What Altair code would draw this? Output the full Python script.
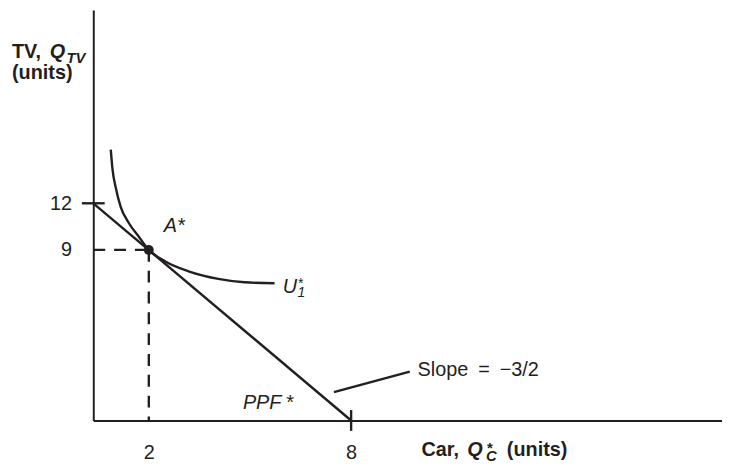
import altair as alt
import pandas as pd

# ---- data values ----
x_ticks = [2, 8]
y_ticks = [9, 12]

ppf_x = [0, 8]
ppf_y = [12, 0]

ic_x = [0.63, 0.69, 0.81, 0.99, 1.29, 1.64, 2.0, 2.49, 3.18, 4.06, 4.84, 5.73]
ic_y = [15.61, 14.33, 13.04, 11.76, 10.70, 9.85, 9.0, 8.39, 7.87, 7.47, 7.29, 7.24]

a_x = [2]
a_y = [9]

slope_x = [7.49, 9.74]
slope_y = [1.50, 2.58]

# in-plot labels (data coordinates of their left/baseline anchor)
lbl_a = ("A*", 2.44, 10.17)
lbl_u = ("U", 5.97, 6.75)
lbl_ustar = ("*", 6.41, 7.01)
lbl_usub = ("1", 6.41, 6.54)
lbl_ppf = ("PPF\u2009*", 4.79, 0.63)
lbl_slope = ("Slope\u2002=\u2002\u22123/2", 9.97, 2.35)

# axis title pieces
ytitle_parts = ["TV,", "Q", "TV", "(units)"]
xtitle_parts = ["Car,", "Q", "*", "C", "(units)"]
x_origin, y_top = 0, 25

INK = "#231f20"
FONT = "Liberation Sans"

xscale = alt.Scale(domain=[0, 2, 8, 19], range=[0, 56, 260, 634], nice=False, zero=False)
yscale = alt.Scale(domain=[0, 9, 12, 25], range=[414, 242, 195, 0], nice=False, zero=False)

xaxis = alt.Axis(values=x_ticks, title=None, ticks=False, tickSize=0, grid=False,
                 labelFont=FONT, labelFontSize=20, labelColor=INK, labelPadding=38,
                 labelBaseline="alphabetic", labelFlush=False, labelOverlap=False,
                 domainColor=INK, domainWidth=2)
yaxis = alt.Axis(values=y_ticks, title=None, ticks=False, tickSize=0, grid=False,
                 labelFont=FONT, labelFontSize=20, labelColor=INK, labelPadding=22,
                 labelBaseline="middle", labelAlign="right", labelFlush=False, labelOverlap=False,
                 domainColor=INK, domainWidth=2)


def X(f="x"):
    return alt.X(f"{f}:Q", scale=xscale, axis=xaxis)


def Y(f="y"):
    return alt.Y(f"{f}:Q", scale=yscale, axis=yaxis)


ppf = alt.Chart(pd.DataFrame({"x": ppf_x, "y": ppf_y})).mark_line(
    color=INK, strokeWidth=2.4).encode(x=X(), y=Y())

ic = alt.Chart(pd.DataFrame({"x": ic_x, "y": ic_y})).mark_line(
    color=INK, strokeWidth=2.4, interpolate="monotone").encode(x=X(), y=Y())

dash_df = pd.DataFrame({"x": [0, a_x[0]], "x2": [a_x[0], a_x[0]],
                        "y": [a_y[0], a_y[0]], "y2": [a_y[0], 0]})
dashes = alt.Chart(dash_df).mark_rule(color=INK, strokeWidth=2.4, strokeDash=[12, 9]).encode(
    x=X(), x2="x2:Q", y=Y(), y2="y2:Q")

tick12 = alt.Chart(pd.DataFrame({"x": [0], "y": [12]})).mark_tick(
    orient="horizontal", size=23, thickness=2.4, color=INK, opacity=1).encode(x=X(), y=Y())
tick8 = alt.Chart(pd.DataFrame({"x": [8], "y": [0]})).mark_tick(
    orient="vertical", size=21, thickness=2.4, color=INK, opacity=1).encode(x=X(), y=Y())

point = alt.Chart(pd.DataFrame({"x": a_x, "y": a_y})).mark_circle(
    size=100, color=INK, opacity=1).encode(x=X(), y=Y())

slope_df = pd.DataFrame({"x": [slope_x[0]], "x2": [slope_x[1]], "y": [slope_y[0]], "y2": [slope_y[1]]})
slope_line = alt.Chart(slope_df).mark_rule(color=INK, strokeWidth=2.4).encode(
    x=X(), x2="x2:Q", y=Y(), y2="y2:Q")


def label(text, x, y, size=20, weight="normal", style="normal", dx=0, dy=0):
    df = pd.DataFrame({"x": [x], "y": [y], "t": [text]})
    return alt.Chart(df).mark_text(
        font=FONT, fontSize=size, fontWeight=weight, fontStyle=style, color=INK,
        align="left", baseline="alphabetic", dx=dx, dy=dy).encode(x=X(), y=Y(), text="t:N")


texts = [
    label(lbl_a[0], lbl_a[1], lbl_a[2], style="italic"),
    label(lbl_u[0], lbl_u[1], lbl_u[2], style="italic"),
    label(lbl_ustar[0], lbl_ustar[1], lbl_ustar[2], size=14, style="italic"),
    label(lbl_usub[0], lbl_usub[1], lbl_usub[2], size=14, style="italic"),
    label(lbl_ppf[0], lbl_ppf[1], lbl_ppf[2], style="italic"),
    label(lbl_slope[0], lbl_slope[1], lbl_slope[2]),
    # y-axis title
    label(ytitle_parts[0], x_origin, y_top, weight="bold", dx=-82, dy=48),
    label(ytitle_parts[1], x_origin, y_top, weight="bold", style="italic", dx=-44, dy=48),
    label(ytitle_parts[2], x_origin, y_top, size=15, weight="bold", style="italic", dx=-27, dy=54),
    label(ytitle_parts[3], x_origin, y_top, weight="bold", dx=-82, dy=70),
    # x-axis title
    label(xtitle_parts[0], 8, 0, weight="bold", dx=71, dy=36),
    label(xtitle_parts[1], 8, 0, weight="bold", style="italic", dx=117, dy=36),
    label(xtitle_parts[2], 8, 0, size=15, weight="bold", dx=137, dy=33),
    label(xtitle_parts[3], 8, 0, size=15, weight="bold", style="italic", dx=136, dy=41),
    label(xtitle_parts[4], 8, 0, weight="bold", dx=157, dy=36),
]

chart = alt.layer(ppf, ic, dashes, tick12, tick8, point, slope_line, *texts).properties(
    width=634, height=414,
    autosize=alt.AutoSizeParams(type="none"),
    padding={"left": 86, "top": 0, "right": 0, "bottom": 46},
    background="white",
).configure_view(stroke=None)

chart.save("out.html", embed_options={"renderer": "svg", "actions": False})
